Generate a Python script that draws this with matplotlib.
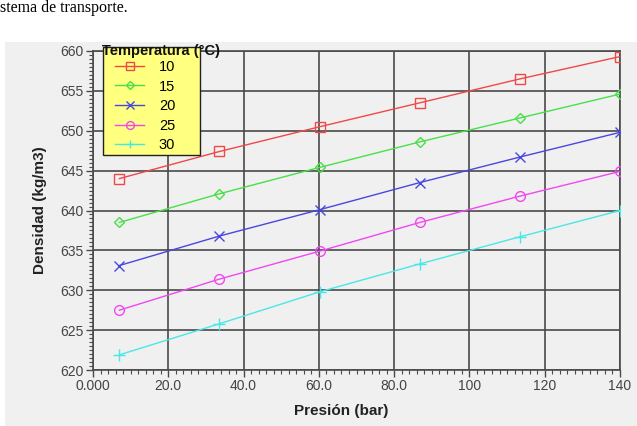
"""
Densidad vs presión para varias temperaturas
"""

import matplotlib
matplotlib.use("Agg")
import matplotlib.pyplot as plt
from matplotlib.patches import Rectangle
from matplotlib.ticker import MultipleLocator, FixedLocator, FixedFormatter

plt.rcParams["font.family"] = ["Liberation Sans", "DejaVu Sans"]

# Data
presion = [7.0, 33.6, 60.2, 86.8, 113.4, 140.0]
temperaturas = ["10", "15", "20", "25", "30"]
densidad = [
    [644.0, 647.4, 650.5, 653.5, 656.5, 659.3],  # 10 °C
    [638.5, 642.1, 645.4, 648.6, 651.6, 654.6],  # 15 °C
    [633.1, 636.8, 640.1, 643.5, 646.7, 649.8],  # 20 °C
    [627.5, 631.4, 634.9, 638.5, 641.8, 644.9],  # 25 °C
    [621.9, 625.8, 629.8, 633.3, 636.7, 640.0],  # 30 °C
]
x_ticks = [0, 20, 40, 60, 80, 100, 120, 140]
x_labels = ["0.000", "20.0", "40.0", "60.0", "80.0", "100", "120", "140"]

colores = ["#f04848", "#48e048", "#4848e0", "#f048f0", "#48e8e8"]
marcadores = ["s", "D", "x", "o", "+"]
tamanos = [6.5, 5, 7, 7, 8]

W, H = 637, 426
fig = plt.figure(figsize=(W / 100, H / 100), dpi=100)
fig.patch.set_facecolor("white")

# gray chart panel (screenshot background)
fig.patches.append(Rectangle((5 / W, 0), 1 - 5 / W, 1 - 42 / H,
                             transform=fig.transFigure, facecolor="#f0f0f0",
                             edgecolor="none", zorder=-10))

# cut document text above chart
fig.text(0, 1 - 12 / H, "stema de transporte.", family="Liberation Serif",
         fontsize=11.5, va="baseline", ha="left")

ax = fig.add_axes([93 / W, 1 - 370 / H, (620 - 93) / W, (370 - 51) / H])
ax.set_facecolor("#f0f0f0")

for vals, lab, c, m, ms in zip(densidad, temperaturas, colores, marcadores, tamanos):
    ax.plot(presion, vals, color=c, lw=1.0, marker=m, ms=ms,
            mfc="none", mec=c, mew=1.0, label=lab, zorder=3)

ax.set_xlim(0, 140)
ax.set_ylim(620, 660)
ax.xaxis.set_major_locator(FixedLocator(x_ticks))
ax.xaxis.set_major_formatter(FixedFormatter(x_labels))
ax.xaxis.set_minor_locator(MultipleLocator(2))
ax.yaxis.set_major_locator(MultipleLocator(5))
ax.yaxis.set_minor_locator(MultipleLocator(0.5))

ax.grid(True, which="major", color="#4a4a4a", lw=1.2)
ax.set_axisbelow(True)
for s in ax.spines.values():
    s.set_color("#4a4a4a")
    s.set_linewidth(1.2)
ax.tick_params(which="major", direction="out", length=5, width=1, color="#4a4a4a",
               labelsize=10, labelcolor="#444444", pad=1.5)
ax.tick_params(which="minor", direction="out", length=3, width=0.8, color="#4a4a4a")

fig.text(40 / W, 1 - 210 / H, "Densidad (kg/m3)", rotation=90, fontsize=11,
         fontweight="bold", ha="center", va="center", color="#222222")
fig.text(341 / W, 1 - 411 / H, "Presión (bar)", fontsize=11,
         fontweight="bold", ha="center", va="center", color="#222222")

# yellow legend box
fig.patches.append(Rectangle((103 / W, 1 - 155 / H), 97 / W, (155 - 47) / H,
                             transform=fig.transFigure, facecolor="#ffff80",
                             edgecolor="#222222", lw=1.0, zorder=4))

handles, labels = ax.get_legend_handles_labels()
leg = fig.legend(handles, labels, loc="upper left", bbox_to_anchor=(115 / W, 1 - 60 / H),
                 bbox_transform=fig.transFigure, borderaxespad=0, borderpad=0,
                 fontsize=10.5, handlelength=2.0, handletextpad=1.0,
                 labelspacing=0.38, markerscale=0.8, frameon=False)
leg.set_zorder(5)

fig.text(102 / W, 1 - 51 / H, "Temperatura (°C)", fontsize=10.5, fontweight="bold",
         ha="left", va="center", color="#111111", zorder=10)

fig.savefig("out.png", dpi=100)
